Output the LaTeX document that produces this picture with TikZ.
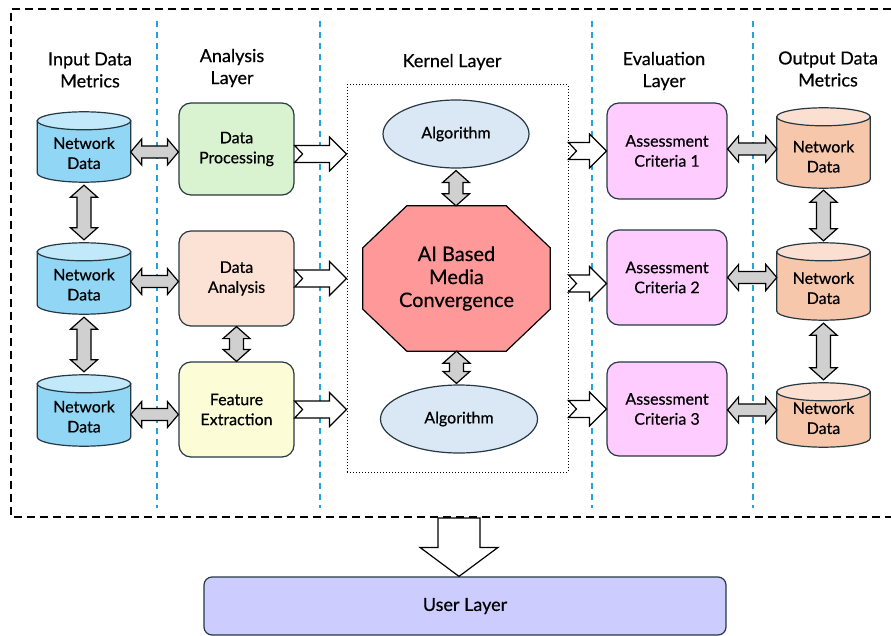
\documentclass[tikz,border=0pt]{standalone}
\usepackage{fontspec}
\setmainfont{Lato}[FakeBold=0.5]
\usetikzlibrary{shapes.geometric, calc, backgrounds}

\definecolor{edgec}{RGB}{38,56,66}
\definecolor{cylblue}{RGB}{146,214,245}
\definecolor{cylbluetop}{RGB}{193,233,250}
\definecolor{cylor}{RGB}{247,199,172}
\definecolor{cylortop}{RGB}{251,224,210}
\definecolor{procg}{RGB}{217,242,208}
\definecolor{anap}{RGB}{251,226,213}
\definecolor{featy}{RGB}{252,252,214}
\definecolor{evalm}{RGB}{255,204,255}
\definecolor{algb}{RGB}{218,232,245}
\definecolor{coreR}{RGB}{255,153,153}
\definecolor{userv}{RGB}{204,204,255}
\definecolor{arrg}{RGB}{208,208,208}
\definecolor{sepb}{RGB}{34,163,222}

\tikzset{
  hdr/.style={align=center, font=\fontsize{18}{22}\selectfont},
  db/.style={minimum width=93pt, text height=44pt, align=center, font=\fontsize{16}{20}\selectfont},
  box/.style={draw=edgec, line width=1.2pt, rounded corners=12pt, align=center,
    font=\fontsize{16}{20}\selectfont},
  alg/.style={ellipse, draw=edgec, line width=1.2pt, fill=algb, minimum height=68pt,
    font=\fontsize{16}{20}\selectfont},
  grayarr/.style={draw=black, line width=1.2pt, fill=arrg, line join=miter},
  whitearr/.style={draw=black, line width=1.2pt, fill=white, line join=miter},
  sep/.style={sepb, line width=1.2pt, dash pattern=on 6pt off 5pt}
}

% cylinder round a node: name, body colour, lid colour
\newcommand{\drum}[3]{%
  \draw[draw=edgec, line width=1.2pt, fill=#2]
    let \p1=(#1.north west), \p2=(#1.south east), \n1={(\x2-\x1)/2} in
    (\x1,\y1-9pt) -- (\x1,\y2+9pt) arc[start angle=180, end angle=360, x radius=\n1, y radius=9pt]
    -- (\x2,\y1-9pt) -- cycle;
  \draw[draw=edgec, line width=1.2pt, fill=#3]
    let \p1=(#1.north west), \p2=(#1.south east), \n1={(\x2-\x1)/2} in
    (\x1+\n1,\y1-9pt) ellipse[x radius=\n1, y radius=9pt];}

% block arrows between node anchors
\newcommand{\hdarrow}[2]{\draw[grayarr] let \p1=(#1), \p2=(#2) in
  (\x1,\y1) -- (\x1+11pt,\y1+13pt) -- (\x1+11pt,\y1+6pt) -- (\x2-11pt,\y1+6pt)
  -- (\x2-11pt,\y1+13pt) -- (\x2,\y1) -- (\x2-11pt,\y1-13pt) -- (\x2-11pt,\y1-6pt)
  -- (\x1+11pt,\y1-6pt) -- (\x1+11pt,\y1-13pt) -- cycle;}
\newcommand{\vdarrow}[2]{\draw[grayarr] let \p1=(#1), \p2=(#2) in
  (\x1,\y1) -- (\x1+13.5pt,\y1-12pt) -- (\x1+7pt,\y1-12pt) -- (\x1+7pt,\y2+12pt)
  -- (\x1+13.5pt,\y2+12pt) -- (\x1,\y2) -- (\x1-13.5pt,\y2+12pt) -- (\x1-7pt,\y2+12pt)
  -- (\x1-7pt,\y1-12pt) -- (\x1-13.5pt,\y1-12pt) -- cycle;}
\newcommand{\warrow}[2]{\draw[whitearr] let \p1=(#1), \p2=(#2) in
  (\x1,\y1+8.5pt) -- (\x2-17pt,\y1+8.5pt) -- (\x2-17pt,\y1+17pt) -- (\x2,\y1)
  -- (\x2-17pt,\y1-17pt) -- (\x2-17pt,\y1-8.5pt) -- (\x1,\y1-8.5pt) -- (\x1+8pt,\y1) -- cycle;}

\begin{document}
\begin{tikzpicture}[x=1pt, y=-1pt]
  \useasboundingbox (0,0) rectangle (891,636);

  % outer frame and layer separators
  \draw[line width=1.4pt, dash pattern=on 8pt off 5pt] (891,9) -- (11,9) -- (11,517) -- (891,517);
  \foreach \sx in {157,320,592,753}
    \draw[sep] (\sx,21) -- (\sx,508);

  % headings
  \node[hdr] (hin)  at (90,70)  {Input Data\\Metrics};
  \node[hdr] (han)  at (232,68) {Analysis\\Layer};
  \node[hdr] (hker) at (452,62) {Kernel Layer};
  \node[hdr] (hev)  at (664,71) {Evaluation\\Layer};
  \node[hdr] (hout) at (828,69) {Output Data\\Metrics};

  % input data
  \node[db, minimum height=70pt] (in1) at (84,147) {Network\\Data};
  \node[db, minimum height=71pt] (in2) at (84,278.5) {Network\\Data};
  \node[db, minimum height=71pt] (in3) at (84,410.5) {Network\\Data};

  % analysis layer
  \node[box, fill=procg, minimum width=115pt, minimum height=92pt] (ana1) at (236.5,149) {Data\\Processing};
  \node[box, fill=anap, minimum width=115pt, minimum height=95pt] (ana2) at (236.5,278.5) {Data\\Analysis};
  \node[box, fill=featy, minimum width=115pt, minimum height=95pt] (ana3) at (236.5,409.5) {Feature\\Extraction};

  % kernel layer
  \node[draw, line width=1pt, dotted, minimum width=221pt, minimum height=387pt] (kbox) at (457.5,278.5) {};
  \node[alg, minimum width=146pt] (alg1) at (456,134) {Algorithm};
  \node[minimum width=187pt, minimum height=145pt, align=center,
    font=\fontsize{20}{23}\selectfont] (core) at (456.5,278.5) {AI Based\\Media\\Convergence};
  \node[alg, minimum width=157pt] (alg2) at (459,419) {Algorithm};

  % evaluation layer
  \node[box, fill=evalm, minimum width=120pt, minimum height=96pt] (ev1) at (667,151) {Assessment\\Criteria 1};
  \node[box, fill=evalm, minimum width=120pt, minimum height=95pt] (ev2) at (667,277.5) {Assessment\\Criteria 2};
  \node[box, fill=evalm, minimum width=120pt, minimum height=94pt] (ev3) at (667,409) {Assessment\\Criteria 3};

  % output data
  \node[db, minimum height=80pt, text height=49pt] (out1) at (823.5,148) {Network\\Data};
  \node[db, minimum height=77pt, text height=45pt] (out2) at (823.5,281.5) {Network\\Data};
  \node[db, minimum height=64pt, text height=38pt] (out3) at (823.5,415) {Network\\Data};

  % cylinder bodies and the octagon go under the texts
  \begin{pgfonlayer}{background}
    \foreach \d in {in1,in2,in3} \drum{\d}{cylblue}{cylbluetop};
    \foreach \d in {out1,out2,out3} \drum{\d}{cylor}{cylortop};
    \draw[line width=1.2pt, fill=coreR, line join=miter]
      ($(core.north west)+(44,0)$) -- ($(core.north east)+(-44,0)$) -- ($(core.north east)+(0,42)$)
      -- ($(core.south east)+(0,-42)$) -- ($(core.south east)+(-44,0)$) -- ($(core.south west)+(44,0)$)
      -- ($(core.south west)+(0,-42)$) -- ($(core.north west)+(0,42)$) -- cycle;
  \end{pgfonlayer}

  % user layer
  \node[draw=edgec, line width=1.2pt, rounded corners=8pt, fill=userv, minimum width=522pt,
    minimum height=58pt, font=\fontsize{18}{20}\selectfont] (user) at (465,606) {User Layer};
  \coordinate (fbot) at (459,518);

  % gray double arrows
  \hdarrow{$(in1.east)+(0,5)$}{ana1.west}
  \hdarrow{$(in2.east)+(0,3)$}{ana2.west}
  \hdarrow{$(in3.east)+(0,4)$}{ana3.west}
  \vdarrow{$(in1.south)+(0,3)$}{$(in2.north)+(0,-3)$}
  \vdarrow{$(in2.south)+(0,3)$}{$(in3.north)+(0,-3)$}
  \vdarrow{ana2.south}{ana3.north}
  \vdarrow{$(alg1.south)+(0,2)$}{core.north}
  \vdarrow{core.south}{$(alg2.north)+(0,-1)$}
  \hdarrow{$(ev1.east)+(0,-2)$}{out1.west}
  \hdarrow{$(ev2.east)+(0,0)$}{out2.west}
  \hdarrow{$(ev3.east)+(0,1)$}{out3.west}
  \vdarrow{$(out1.south)+(0,2)$}{$(out2.north)+(0,-2)$}
  \vdarrow{$(out2.south)+(0,3)$}{$(out3.north)+(0,-3)$}

  % white flow arrows
  \warrow{$(ana1.east)+(0,5)$}{kbox.west}
  \warrow{ana2.east}{kbox.west}
  \warrow{ana3.east}{kbox.west}
  \warrow{kbox.east |- ev1.west}{ev1.west}
  \warrow{$(kbox.east |- ev2.west)+(0,6)$}{ev2.west}
  \warrow{kbox.east |- ev3.west}{ev3.west}
  \draw[whitearr] let \p1=(fbot), \p2=(fbot |- user.north) in
    (\x1-21pt,\y1) -- (\x1+21pt,\y1) -- (\x1+21pt,\y2+29pt) -- (\x1+39pt,\y2+29pt)
    -- (\x1,\y2) -- (\x1-39pt,\y2+29pt) -- (\x1-21pt,\y2+29pt) -- cycle;
\end{tikzpicture}
\end{document}
